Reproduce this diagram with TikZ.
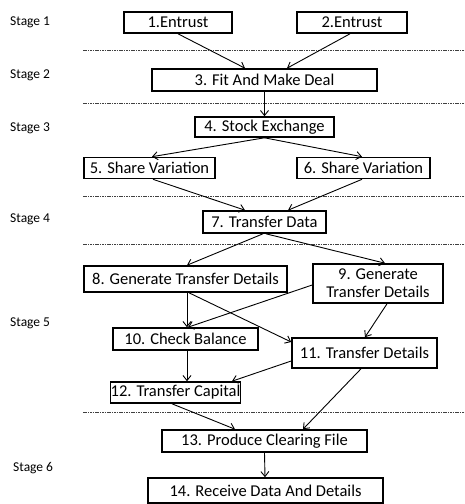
\documentclass[tikz,border=0pt]{standalone}
\usepackage{fontspec}
\setmainfont{Carlito}
\usetikzlibrary{arrows.meta,calc}
\tikzset{
  stepbox/.style={draw, line width=1.6pt, inner sep=0pt, align=center,
    font=\fontsize{16.5}{18}\selectfont},
  stagelabel/.style={anchor=west, inner sep=0pt, font=\fontsize{13.5}{15}\selectfont},
  flow/.style={line width=0.9pt, -{Straight Barb[length=5pt,width=8pt,line width=0.9pt]}},
  divider/.style={line width=0.6pt, black!75, dash pattern=on 1.5pt off 0.9pt}
}
\begin{document}
\begin{tikzpicture}[x=1pt,y=-1pt]
\useasboundingbox (0,0) rectangle (465,504);

% stage labels
\node[stagelabel] (s1) at (10,22) {Stage 1};
\node[stagelabel] (s2) at (10,75) {Stage 2};
\node[stagelabel] (s3) at (10,128) {Stage 3};
\node[stagelabel] (s4) at (10,219) {Stage 4};
\node[stagelabel] (s5) at (10,323) {Stage 5};
\node[stagelabel] (s6) at (13,468) {Stage 6};

% stage dividers
\draw[divider] (83,50) -- (465,50);
\draw[divider] (83,103) -- (465,103);
\draw[divider] (83,196) -- (465,196);
\draw[divider] (83,244) -- (465,244);
\draw[divider] (83,412) -- (465,412);

% process steps
\node[stepbox, minimum width=108, minimum height=21] (b1) at (178,22.5) {1.Entrust};
\node[stepbox, minimum width=110, minimum height=21] (b2) at (352,22.5) {2.Entrust};
\node[stepbox, minimum width=225, minimum height=22] (b3) at (264.5,80) {3. Fit And Make Deal};
\node[stepbox, minimum width=139, minimum height=20] (b4) at (264.5,127) {4. Stock Exchange};
\node[stepbox, minimum width=131, minimum height=21] (b5) at (149.5,168) {5. Share Variation};
\node[stepbox, minimum width=133, minimum height=21] (b6) at (363.5,168) {6. Share Variation};
\node[stepbox, minimum width=123, minimum height=22] (b7) at (264.5,222) {7. Transfer Data};
\node[stepbox, minimum width=203, minimum height=26] (b8) at (185.5,279) {8. Generate Transfer Details};
\node[stepbox, minimum width=130, minimum height=39] (b9) at (378,283.5) {9. Generate\\Transfer Details};
\node[stepbox, minimum width=145, minimum height=22] (b10) at (185.5,339) {10. Check Balance};
\node[stepbox, minimum width=145, minimum height=30] (b11) at (364.5,353) {11. Transfer Details};
\node[stepbox, minimum width=127, minimum height=21] (b12) at (175.5,392.5) {12. Transfer Capital};
\node[stepbox, minimum width=205, minimum height=22] (b13) at (264.5,441) {13. Produce Clearing File};
\node[stepbox, minimum width=235, minimum height=25] (b14) at (265.5,490.5) {14. Receive Data And Details};

% connectors
\draw[flow] (b1.south) -- ($(b3.north)+(-19.5,0)$);
\draw[flow] ($(b2.south)+(-2,0)$) -- ($(b3.north)+(22.5,0)$);
\draw[flow] (b3.south) -- (b4.north);
\draw[flow] (b4.south) -- ($(b5.north)+(2.5,0)$);
\draw[flow] (b4.south) -- ($(b6.north)+(-1.5,0)$);
\draw[flow] ($(b5.south)+(3.5,0)$) -- ($(b7.north)+(-19.5,0)$);
\draw[flow] ($(b6.south)+(-1.5,0)$) -- ($(b7.north)+(23.5,0)$);
\draw[flow] ($(b7.south)+(-1.5,0)$) -- ($(b8.north)+(1.5,0)$);
\draw[flow] ($(b7.south)+(1.5,0)$) -- ($(b9.north)+(7,0)$);
\draw[flow] ($(b8.south)+(1.5,0)$) -- ($(b10.north)+(1.5,0)$);
\draw[flow] ($(b8.south)+(3.5,0)$) -- ($(b11.west)+(0,-11)$);
\draw[flow] ($(b9.west)+(0,1.5)$) -- ($(b10.north)+(2.5,0)$);
\draw[flow] ($(b9.south)+(9,0)$) -- ($(b11.north)+(0.5,0)$);
\draw[flow] ($(b10.south)+(1.5,0)$) -- ($(b12.north)+(11.5,0)$);
\draw[flow] ($(b11.west)+(0,8)$) -- ($(b12.north)+(56.5,0)$);
\draw[flow] ($(b11.south)+(-3.5,0)$) -- ($(b13.north)+(38.5,0)$);
\draw[flow] ($(b12.south)+(-3.5,0)$) -- ($(b13.north)+(-29.5,0)$);
\draw[flow] (b13.south) -- ($(b14.north)+(-0.5,0)$);
\end{tikzpicture}
\end{document}
